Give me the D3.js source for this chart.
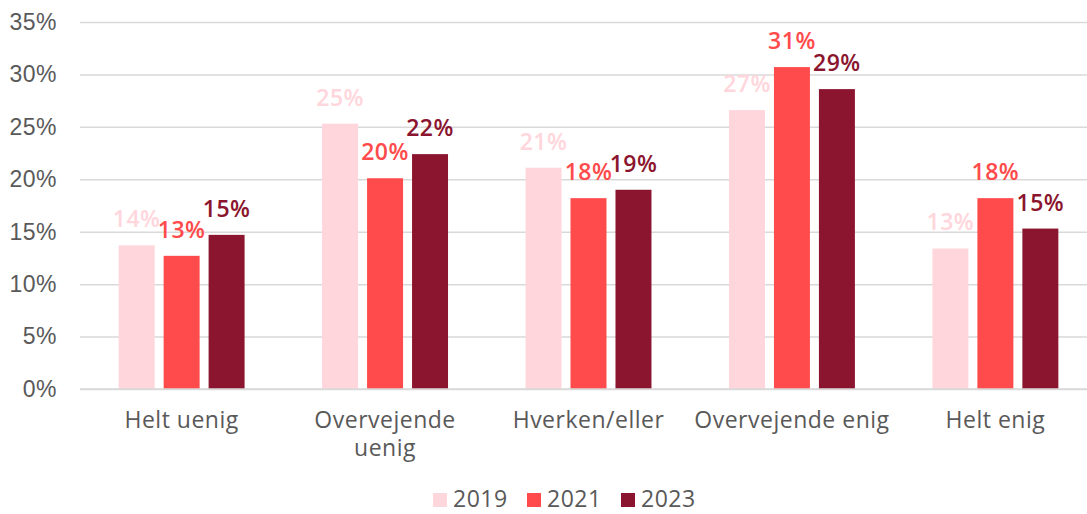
<!DOCTYPE html>
<html>
<head>
<meta charset="utf-8">
<script src="https://cdn.jsdelivr.net/npm/d3@7"></script>
<style>
  body { margin: 0; background: #fff; }
  svg { display: block; font-family: "Open Sans", Lato, sans-serif; letter-spacing: 0.5px; }
</style>
</head>
<body>
<svg id="chart" width="1087" height="514"></svg>
<script>
(function(){
	'use strict';

	// categories (line-broken as in the reference)
	var categories = ['Helt uenig', 'Overvejende uenig', 'Hverken/eller', 'Overvejende enig', 'Helt enig'];
	var categoryLines = [['Helt uenig'], ['Overvejende', 'uenig'], ['Hverken/eller'], ['Overvejende enig'], ['Helt enig']];
	var years = ['2019', '2021', '2023'];

	// percent per category, one array per year
	var values2019 = [13.7, 25.3, 21.1, 26.6, 13.4];
	var values2021 = [12.7, 20.1, 18.2, 30.7, 18.2];
	var values2023 = [14.7, 22.4, 19.0, 28.6, 15.3];

	var yTicks = [0, 5, 10, 15, 20, 25, 30, 35];
	var colors = ['#ffd6dc', '#ff4b4b', '#8b152e'];

	var series = [values2019, values2021, values2023];

	var svg = d3.select('#chart');
	var left = 80, right = 1097, top = 22, bottom = 389;

	var x0 = d3.scaleBand()
		.domain(categories)
		.range([left, right])
		.paddingInner(0.381)
		.paddingOuter(0.19);

	var x1 = d3.scaleBand()
		.domain(years)
		.range([0, x0.bandwidth()])
		.paddingInner(0.2)
		.paddingOuter(0);

	var y = d3.scaleLinear()
		.domain([0, 35])
		.range([bottom, top]);

	var color = d3.scaleOrdinal().domain(years).range(colors);

	// y axis + gridlines
	var yAxis = svg.append('g')
		.attr('transform', 'translate(' + left + ',0)')
		.call(d3.axisLeft(y)
			.tickValues(yTicks)
			.tickSize(-(1087 - left))
			.tickPadding(23)
			.tickFormat(function(d){ return d + '%'; }));
	yAxis.select('.domain').remove();
	yAxis.selectAll('.tick line')
		.attr('stroke', '#d9d9d9')
		.attr('stroke-width', 1.5);
	yAxis.selectAll('.tick text')
		.attr('fill', '#595959')
		.style('font-size', '23px');

	// bars
	var rows = categories.map(function(c, i){
		return years.map(function(yr, j){ return { cat: c, year: yr, value: series[j][i] }; });
	});

	var groups = svg.append('g').selectAll('g')
		.data(rows)
		.enter()
		.append('g')
			.attr('transform', function(d){ return 'translate(' + x0(d[0].cat) + ',0)'; });

	groups.selectAll('rect')
		.data(function(d){ return d; })
		.enter()
		.append('rect')
			.attr('x', function(d){ return x1(d.year); })
			.attr('y', function(d){ return y(d.value); })
			.attr('width', x1.bandwidth())
			.attr('height', function(d){ return y(0) - y(d.value); })
			.attr('fill', function(d){ return color(d.year); });

	groups.selectAll('text')
		.data(function(d){ return d; })
		.enter()
		.append('text')
			.attr('x', function(d){ return x1(d.year) + x1.bandwidth() / 2; })
			.attr('y', function(d){ return y(d.value) - 18; })
			.attr('text-anchor', 'middle')
			.attr('fill', function(d){ return color(d.year); })
			.style('font-size', '23px')
			.style('font-weight', 600)
			.text(function(d){ return Math.round(d.value) + '%'; });

	// x axis line
	svg.append('line')
		.attr('x1', left).attr('x2', 1087)
		.attr('y1', y(0)).attr('y2', y(0))
		.attr('stroke', '#d9d9d9')
		.attr('stroke-width', 1.5);

	// category labels
	var xl = svg.append('g').selectAll('text')
		.data(categories)
		.enter()
		.append('text')
			.attr('x', function(d){ return x0(d) + x0.bandwidth() / 2; })
			.attr('y', y(0) + 39)
			.attr('text-anchor', 'middle')
			.attr('fill', '#595959')
			.style('font-size', '23px');
	xl.each(function(d, i){
		var t = d3.select(this);
		categoryLines[i].forEach(function(line, k){
			t.append('tspan')
				.attr('x', x0(d) + x0.bandwidth() / 2)
				.attr('dy', k === 0 ? 0 : 28)
				.text(line);
		});
	});

	// legend
	var legend = svg.append('g').selectAll('g')
		.data(years)
		.enter()
		.append('g')
			.attr('transform', function(d, i){ return 'translate(' + (433 + i * 94) + ',493)'; });
	legend.append('rect')
		.attr('width', 14).attr('height', 14)
		.attr('fill', function(d){ return color(d); });
	legend.append('text')
		.attr('x', 20).attr('y', 14)
		.attr('fill', '#595959')
		.style('font-size', '23px')
		.text(function(d){ return d; });

})();
</script>
</body>
</html>
